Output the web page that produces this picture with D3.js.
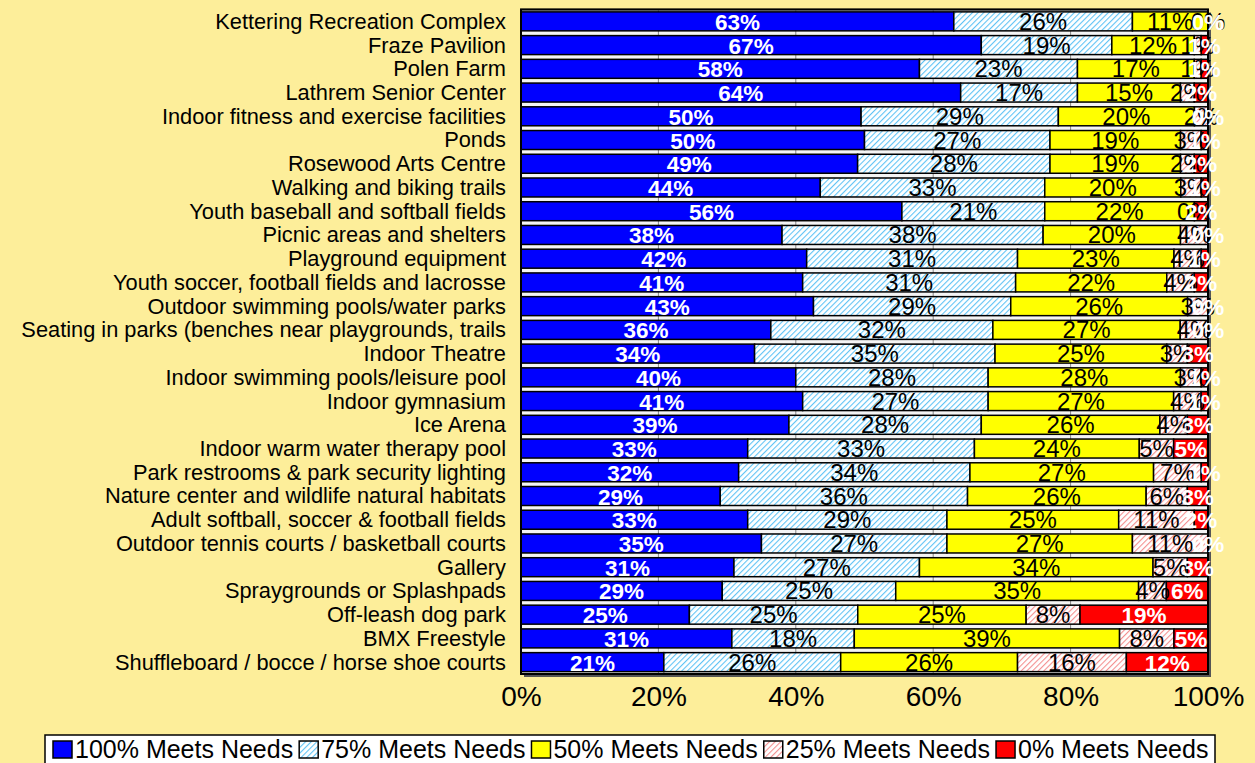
<!DOCTYPE html>
<html>
<head>
<meta charset="utf-8">
<script src="https://cdn.jsdelivr.net/npm/d3@7"></script>
<style>
  body { margin: 0; background: #fdee9a; }
  svg { display: block; font-family: "Liberation Sans", Arial, sans-serif; }
</style>
</head>
<body>
<script>
const categories = [
  "Kettering Recreation Complex", "Fraze Pavilion", "Polen Farm", "Lathrem Senior Center",
  "Indoor fitness and exercise facilities", "Ponds", "Rosewood Arts Centre",
  "Walking and biking trails", "Youth baseball and softball fields",
  "Picnic areas and shelters", "Playground equipment",
  "Youth soccer, football fields and lacrosse", "Outdoor swimming pools/water parks",
  "Seating in parks (benches near playgrounds, trails", "Indoor Theatre",
  "Indoor swimming pools/leisure pool", "Indoor gymnasium", "Ice Arena",
  "Indoor warm water therapy pool", "Park restrooms & park security lighting",
  "Nature center and wildlife natural habitats", "Adult softball, soccer & football fields",
  "Outdoor tennis courts / basketball courts", "Gallery", "Spraygrounds or Splashpads",
  "Off-leash dog park", "BMX Freestyle", "Shuffleboard / bocce / horse shoe courts"
];
const meets100 = [63, 67, 58, 64, 50, 50, 49, 44, 56, 38, 42, 41, 43, 36, 34, 40, 41, 39, 33, 32, 29, 33, 35, 31, 29, 25, 31, 21];
const meets75  = [26, 19, 23, 17, 29, 27, 28, 33, 21, 38, 31, 31, 29, 32, 35, 28, 27, 28, 33, 34, 36, 29, 27, 27, 25, 25, 18, 26];
const meets50  = [11, 12, 17, 15, 20, 19, 19, 20, 22, 20, 23, 22, 26, 27, 25, 28, 27, 26, 24, 27, 26, 25, 27, 34, 35, 25, 39, 26];
const meets25  = [0, 1, 1, 2, 2, 3, 2, 3, 0, 4, 4, 4, 3, 4, 3, 3, 4, 4, 5, 7, 6, 11, 11, 5, 4, 8, 8, 16];
const meets0   = [0, 1, 1, 2, 0, 1, 2, 1, 2, 0, 1, 2, 0, 0, 3, 1, 1, 3, 5, 1, 3, 2, 0, 3, 6, 19, 5, 12];
const seriesNames = ["100% Meets Needs", "75% Meets Needs", "50% Meets Needs", "25% Meets Needs", "0% Meets Needs"];
const xTicks = [0, 0.2, 0.4, 0.6, 0.8, 1];

const width = 1255, height = 763;
const plot = { left: 521, right: 1208, top: 9.5, bottom: 674 };

const rows = categories.map((c, i) => ({
  cat: c, s0: meets100[i], s1: meets75[i], s2: meets50[i], s3: meets25[i], s4: meets0[i]
}));
const keys = ["s0", "s1", "s2", "s3", "s4"];
const fills = ["#0000ff", "url(#hatchBlue)", "#ffff00", "url(#hatchPink)", "#ff0000"];
const labelColor = ["#fff", "#000", "#000", "#000", "#fff"];

const stacked = d3.stack().keys(keys).offset(d3.stackOffsetExpand)(rows);

const x = d3.scaleLinear().domain([0, 1]).range([plot.left, plot.right]);
const y = d3.scaleBand().domain(categories).range([plot.top, plot.bottom]).paddingInner(0.2).paddingOuter(0.1);

const svg = d3.select("body").append("svg").attr("width", width).attr("height", height);

const defs = svg.append("defs");
function hatch(id, color) {
  const p = defs.append("pattern").attr("id", id).attr("patternUnits", "userSpaceOnUse")
    .attr("width", 4).attr("height", 4).attr("patternTransform", "rotate(45)");
  p.append("rect").attr("width", 4).attr("height", 4).attr("fill", "#fff");
  p.append("line").attr("x1", 0).attr("y1", 0).attr("x2", 0).attr("y2", 4)
    .attr("stroke", color).attr("stroke-width", 2.2);
}
hatch("hatchBlue", "#5fc3f5");
hatch("hatchPink", "#f49090");

// plot background + shadow
svg.append("rect").attr("x", plot.left + 3).attr("y", plot.top + 3)
  .attr("width", plot.right - plot.left).attr("height", plot.bottom - plot.top).attr("fill", "#555");
svg.append("rect").attr("x", plot.left).attr("y", plot.top)
  .attr("width", plot.right - plot.left).attr("height", plot.bottom - plot.top)
  .attr("fill", "#f4f4f4").attr("stroke", "#000").attr("stroke-width", 1.5);

svg.append("g").selectAll("line").data(xTicks.slice(1, -1)).join("line")
  .attr("x1", (d) => x(d)).attr("x2", (d) => x(d))
  .attr("y1", plot.top).attr("y2", plot.bottom)
  .attr("stroke", "#888").attr("stroke-width", 1);

const layers = svg.append("g").selectAll("g").data(stacked).join("g")
  .attr("fill", (d, i) => fills[i]);

layers.selectAll("rect").data((d) => d).join("rect")
  .attr("x", (d) => x(d[0]))
  .attr("width", (d) => x(d[1]) - x(d[0]))
  .attr("y", (d) => y(d.data.cat))
  .attr("height", y.bandwidth())
  .attr("stroke", "#000").attr("stroke-width", 1.5);

svg.append("rect").attr("x", plot.left).attr("y", plot.top)
  .attr("width", plot.right - plot.left).attr("height", plot.bottom - plot.top)
  .attr("fill", "none").attr("stroke", "#000").attr("stroke-width", 2);

// value labels
svg.append("g").selectAll("g").data(stacked).join("g")
  .attr("fill", (d, i) => labelColor[i])
  .attr("font-weight", (d, i) => (i === 0 || i === 4 ? "bold" : "normal"))
  .attr("font-size", (d, i) => (i === 0 || i === 4 ? 22.5 : 24))
  .attr("text-anchor", "middle")
  .selectAll("text").data((d) => d.map((v) => ({ v, key: d.key }))).join("text")
  .attr("x", (d) => x((d.v[0] + d.v[1]) / 2))
  .attr("y", (d) => y(d.v.data.cat) + y.bandwidth() / 2 + 8.5)
  .text((d) => d.v.data[d.key] + "%");

// category axis
const yAxis = svg.append("g").attr("transform", `translate(${plot.left},0)`)
  .call(d3.axisLeft(y).tickSize(0).tickPadding(15));
yAxis.select(".domain").remove();
yAxis.selectAll("text").attr("font-size", 21.8).attr("fill", "#000").attr("dy", "0.34em")
  .attr("font-family", "Liberation Sans, Arial, sans-serif");

// percent axis
const xAxis = svg.append("g").attr("transform", `translate(0,${plot.bottom})`)
  .call(d3.axisBottom(x).tickValues(xTicks).tickFormat(d3.format(".0%")).tickSize(0).tickPadding(12));
xAxis.select(".domain").remove();
xAxis.selectAll("text").attr("font-size", 28).attr("fill", "#000")
  .attr("font-family", "Liberation Sans, Arial, sans-serif");

// legend
const legend = svg.append("g");
legend.append("rect").attr("x", 45).attr("y", 735).attr("width", 1170).attr("height", 40)
  .attr("fill", "#fff").attr("stroke", "#000").attr("stroke-width", 1.5);
let lx = 53;
seriesNames.forEach((name, i) => {
  legend.append("rect").attr("x", lx).attr("y", 741).attr("width", 19).attr("height", 17)
    .attr("fill", fills[i]).attr("stroke", "#000").attr("stroke-width", 1.5);
  const t = legend.append("text").attr("x", lx + 22).attr("y", 758)
    .attr("font-size", 25).attr("fill", "#000").text(name);
  lx += 22 + t.node().getComputedTextLength() + 6;
});
</script>
</body>
</html>
